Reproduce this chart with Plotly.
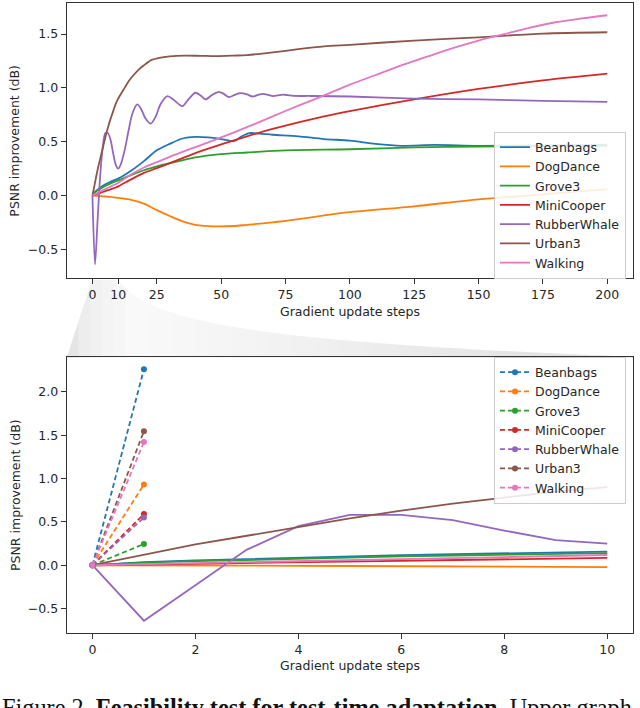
import numpy as np
import plotly.graph_objects as go

# ---------------- data ----------------
series_names = ["Beanbags", "DogDance", "Grove3", "MiniCooper", "RubberWhale", "Urban3", "Walking"]
series_colors = ["#1f77b4", "#ff7f0e", "#2ca02c", "#d62728", "#9467bd", "#8c564b", "#e377c2"]

steps_early = [0, 1, 2, 3, 4, 5, 6, 7, 8, 9, 10]
beanbags_early = [0, 0.035, 0.055, 0.072, 0.09, 0.104, 0.116, 0.127, 0.139, 0.148, 0.157]
dogdance_early = [0, 0.0, -0.003, -0.005, -0.007, -0.009, -0.011, -0.013, -0.016, -0.019, -0.022]
grove3_early = [0, 0.03, 0.047, 0.062, 0.077, 0.09, 0.102, 0.112, 0.122, 0.132, 0.14]
minicooper_early = [0, 0.009, 0.017, 0.025, 0.033, 0.041, 0.05, 0.058, 0.066, 0.075, 0.085]
rubberwhale_early = [0, -0.64, -0.23, 0.18, 0.45, 0.58, 0.58, 0.52, 0.40, 0.29, 0.25]
urban3_early = [0, 0.12, 0.24, 0.34, 0.44, 0.54, 0.63, 0.71, 0.78, 0.85, 0.90]
walking_early = [0, 0.013, 0.025, 0.037, 0.049, 0.06, 0.072, 0.083, 0.094, 0.105, 0.118]

beanbags_late_steps = [15, 20, 25, 30, 35, 40, 45, 50, 55, 58, 61, 65, 70, 80, 90, 100, 110, 120, 133, 150, 175, 200]
beanbags_late = [0.23, 0.32, 0.42, 0.48, 0.53, 0.545, 0.54, 0.525, 0.505, 0.55, 0.58, 0.575, 0.565, 0.55, 0.525,
                 0.51, 0.48, 0.462, 0.47, 0.462, 0.465, 0.472]

dogdance_late_steps = [15, 20, 25, 30, 35, 40, 45, 50, 55, 60, 70, 80, 90, 100, 125, 150, 175, 200]
dogdance_late = [-0.04, -0.075, -0.135, -0.19, -0.24, -0.272, -0.285, -0.287, -0.283, -0.272, -0.25, -0.22,
                 -0.185, -0.155, -0.10, -0.035, 0.01, 0.06]

grove3_late_steps = [15, 20, 25, 30, 40, 50, 60, 75, 100, 125, 150, 175, 200]
grove3_late = [0.19, 0.235, 0.27, 0.30, 0.355, 0.385, 0.40, 0.42, 0.43, 0.447, 0.455, 0.457, 0.46]

minicooper_late_steps = [15, 20, 25, 30, 40, 50, 60, 70, 80, 90, 100, 125, 150, 175, 200]
minicooper_late = [0.15, 0.21, 0.255, 0.30, 0.395, 0.475, 0.55, 0.62, 0.68, 0.735, 0.785, 0.893, 0.99, 1.07, 1.133]

rubberwhale_late_steps = [11, 12.5, 14, 15.5, 17.4, 19, 20.5, 22.6, 24.5, 26.5, 29.1, 31.5, 34.9, 37.5, 40, 42, 44,
                          46.5, 49.1, 51, 53, 55.3, 57.5, 60, 62.2, 64.3, 66.3, 68.3, 70.2, 72, 74, 76, 78, 85,
                          100, 125, 150, 175, 200]
rubberwhale_late = [0.29, 0.42, 0.6, 0.76, 0.847, 0.8, 0.72, 0.668, 0.73, 0.85, 0.923, 0.89, 0.831, 0.9, 0.955,
                    0.93, 0.893, 0.935, 0.964, 0.945, 0.914, 0.935, 0.951, 0.94, 0.92, 0.935, 0.945, 0.935, 0.924,
                    0.93, 0.938, 0.932, 0.926, 0.925, 0.92, 0.90, 0.893, 0.88, 0.87]

urban3_late_steps = [12, 14, 16, 18, 20, 23, 26, 30, 36, 42, 48, 55, 60, 70, 80, 90, 100, 125, 150, 175, 200]
urban3_late = [0.98, 1.06, 1.12, 1.17, 1.21, 1.26, 1.28, 1.293, 1.30, 1.298, 1.295, 1.30, 1.305, 1.33, 1.36,
               1.385, 1.40, 1.44, 1.47, 1.505, 1.517]

walking_late_steps = [15, 20, 25, 30, 40, 50, 60, 70, 80, 90, 100, 110, 120, 130, 140, 150, 160, 170, 180, 190, 200]
walking_late = [0.195, 0.26, 0.31, 0.36, 0.45, 0.54, 0.635, 0.735, 0.835, 0.93, 1.03, 1.12, 1.21, 1.29, 1.37,
                1.44, 1.50, 1.56, 1.61, 1.645, 1.675]

# one-step (dashed) results, steps 0 -> 1
onestep_steps = [0, 1]
onestep_values = [2.26, 0.93, 0.245, 0.59, 0.55, 1.545, 1.42]

top_xticks = [0, 10, 25, 50, 75, 100, 125, 150, 175, 200]
top_yticks = [-0.5, 0.0, 0.5, 1.0, 1.5]
top_yticktext = ["\u22120.5", "0.0", "0.5", "1.0", "1.5"]
bot_xticks = [0, 2, 4, 6, 8, 10]
bot_yticks = [-0.5, 0.0, 0.5, 1.0, 1.5, 2.0]
bot_yticktext = ["\u22120.5", "0.0", "0.5", "1.0", "1.5", "2.0"]

early_list = [beanbags_early, dogdance_early, grove3_early, minicooper_early, rubberwhale_early, urban3_early,
              walking_early]
late_steps_list = [beanbags_late_steps, dogdance_late_steps, grove3_late_steps, minicooper_late_steps,
                   rubberwhale_late_steps, urban3_late_steps, walking_late_steps]
late_list = [beanbags_late, dogdance_late, grove3_late, minicooper_late, rubberwhale_late, urban3_late,
             walking_late]

# ---------------- layout helpers (pixel -> paper) ----------------
W, H = 640, 708
def px(x):
    return x / W
def py(y):
    return 1 - y / H

AX_L, AX_R = 66.7, 633.0
TOP_T, TOP_B = 3.3, 278.0
BOT_T, BOT_B = 356.7, 633.3

FONT = "DejaVu Sans"
FS = 12.5
TXT = "#262626"

fig = go.Figure()

# top chart
for name, color, early, lsteps, late in zip(series_names, series_colors, early_list, late_steps_list, late_list):
    fig.add_trace(go.Scatter(
        x=steps_early + lsteps, y=early + late, mode="lines", name=name,
        line=dict(color=color, width=1.8, shape="spline", smoothing=0.8),
        xaxis="x", yaxis="y", legend="legend", showlegend=True))

# bottom chart: solid (per-step)
for name, color, early in zip(series_names, series_colors, early_list):
    fig.add_trace(go.Scatter(
        x=steps_early, y=early, mode="lines", name=name,
        line=dict(color=color, width=1.8),
        xaxis="x2", yaxis="y2", showlegend=False))

# bottom chart: dashed one-step
for name, color, v in zip(series_names, series_colors, onestep_values):
    fig.add_trace(go.Scatter(
        x=onestep_steps, y=[0, v], mode="lines+markers", name=name,
        line=dict(color=color, width=1.8, dash="5px,3px"),
        marker=dict(color=color, size=6),
        xaxis="x2", yaxis="y2", legend="legend2", showlegend=True))

axis_common = dict(showline=True, mirror=True, linecolor="#333333", linewidth=1, ticks="outside",
                   ticklen=5, tickcolor="#333333", showgrid=False, zeroline=False,
                   tickfont=dict(family=FONT, size=FS, color=TXT), automargin=False)

# gradient "zoom" trapezoid built from strips
def bez(t, p0, p1, p2, p3):
    return ((1 - t) ** 3) * p0 + 3 * ((1 - t) ** 2) * t * p1 + 3 * (1 - t) * t * t * p2 + t ** 3 * p3
tt = np.linspace(0, 1, 200)
bx = bez(tt, 118, 150, 250, AX_R)
by = bez(tt, 280, 322, 342, BOT_T)
bnd_x = np.concatenate([[AX_L, 92.0], bx])
bnd_y = np.concatenate([[BOT_T + 1, 280.0], by])
shapes = []
nstrip = 48
edges = np.linspace(AX_L, AX_R, nstrip + 1)
for i in range(nstrip):
    xa, xb = edges[i], min(edges[i + 1] + 0.6, AX_R)
    inner = [(x, y) for x, y in zip(bnd_x, bnd_y) if xa < x < xb]
    pts = [(xa, float(np.interp(xa, bnd_x, bnd_y)))] + inner + [(xb, float(np.interp(xb, bnd_x, bnd_y)))]
    pts += [(xb, BOT_T + 1), (xa, BOT_T + 1)]
    f = ((xa + xb) / 2 - AX_L) / (AX_R - AX_L)
    g = int(np.interp(f, [0, 0.04, 0.12, 0.4, 1.0], [226, 240, 250, 242, 222]))
    path = "M " + " L ".join(f"{px(x):.5f},{py(y):.5f}" for x, y in pts) + " Z"
    shapes.append(dict(type="path", xref="paper", yref="paper", path=path, layer="below",
                       fillcolor=f"rgb({g},{g},{g})", line=dict(width=0)))

legend_common = dict(font=dict(family=FONT, size=FS, color=TXT), bgcolor="rgba(255,255,255,0.85)",
                     bordercolor="#cccccc", borderwidth=1, xanchor="right", yanchor="middle", itemwidth=30,
                     tracegroupgap=0, traceorder="normal")

title_font = dict(family=FONT, size=FS, color=TXT)
annotations = [
    dict(text="PSNR improvement (dB)", x=px(15), y=py((TOP_T + TOP_B) / 2), xref="paper", yref="paper",
         xanchor="center", yanchor="middle", textangle=-90, showarrow=False, font=title_font),
    dict(text="PSNR improvement (dB)", x=px(15), y=py((BOT_T + BOT_B) / 2), xref="paper", yref="paper",
         xanchor="center", yanchor="middle", textangle=-90, showarrow=False, font=title_font),
    dict(text="Gradient update steps", x=px((AX_L + AX_R) / 2), y=py(311), xref="paper", yref="paper",
         xanchor="center", yanchor="middle", showarrow=False, font=title_font),
    dict(text="Gradient update steps", x=px((AX_L + AX_R) / 2), y=py(665), xref="paper", yref="paper",
         xanchor="center", yanchor="middle", showarrow=False, font=title_font),
    dict(text="Figure 2. <b>Feasibility test for test-time adaptation.</b> Upper graph",
         x=0, y=py(692), xref="paper", yref="paper", xanchor="left", yanchor="top", showarrow=False,
         font=dict(family="Liberation Serif", size=24.3, color="#111111")),
]

fig.update_layout(
    width=W, height=H, autosize=False,
    margin=dict(l=0, r=0, t=0, b=0),
    paper_bgcolor="white", plot_bgcolor="white",
    xaxis=dict(domain=[px(AX_L), px(AX_R)], range=[-10, 210], tickvals=top_xticks,
               anchor="y", **axis_common),
    yaxis=dict(domain=[py(TOP_B), py(TOP_T)], range=[-0.766, 1.786], tickvals=top_yticks,
               ticktext=top_yticktext, anchor="x", **axis_common),
    xaxis2=dict(domain=[px(AX_L), px(AX_R)], range=[-0.5, 10.5], tickvals=bot_xticks,
                anchor="y2", **axis_common),
    yaxis2=dict(domain=[py(BOT_B), py(BOT_T)], range=[-0.785, 2.405], tickvals=bot_yticks,
                ticktext=bot_yticktext, anchor="x2", **axis_common),
    legend=dict(x=px(626), y=py(205), **legend_common),
    legend2=dict(x=px(626), y=py(430), **legend_common),
    shapes=shapes,
    annotations=annotations,
    showlegend=True,
)

fig.write_html("out.html", config={"displayModeBar": False},
               post_script="document.body.style.margin='0';document.body.style.overflow='hidden';")
